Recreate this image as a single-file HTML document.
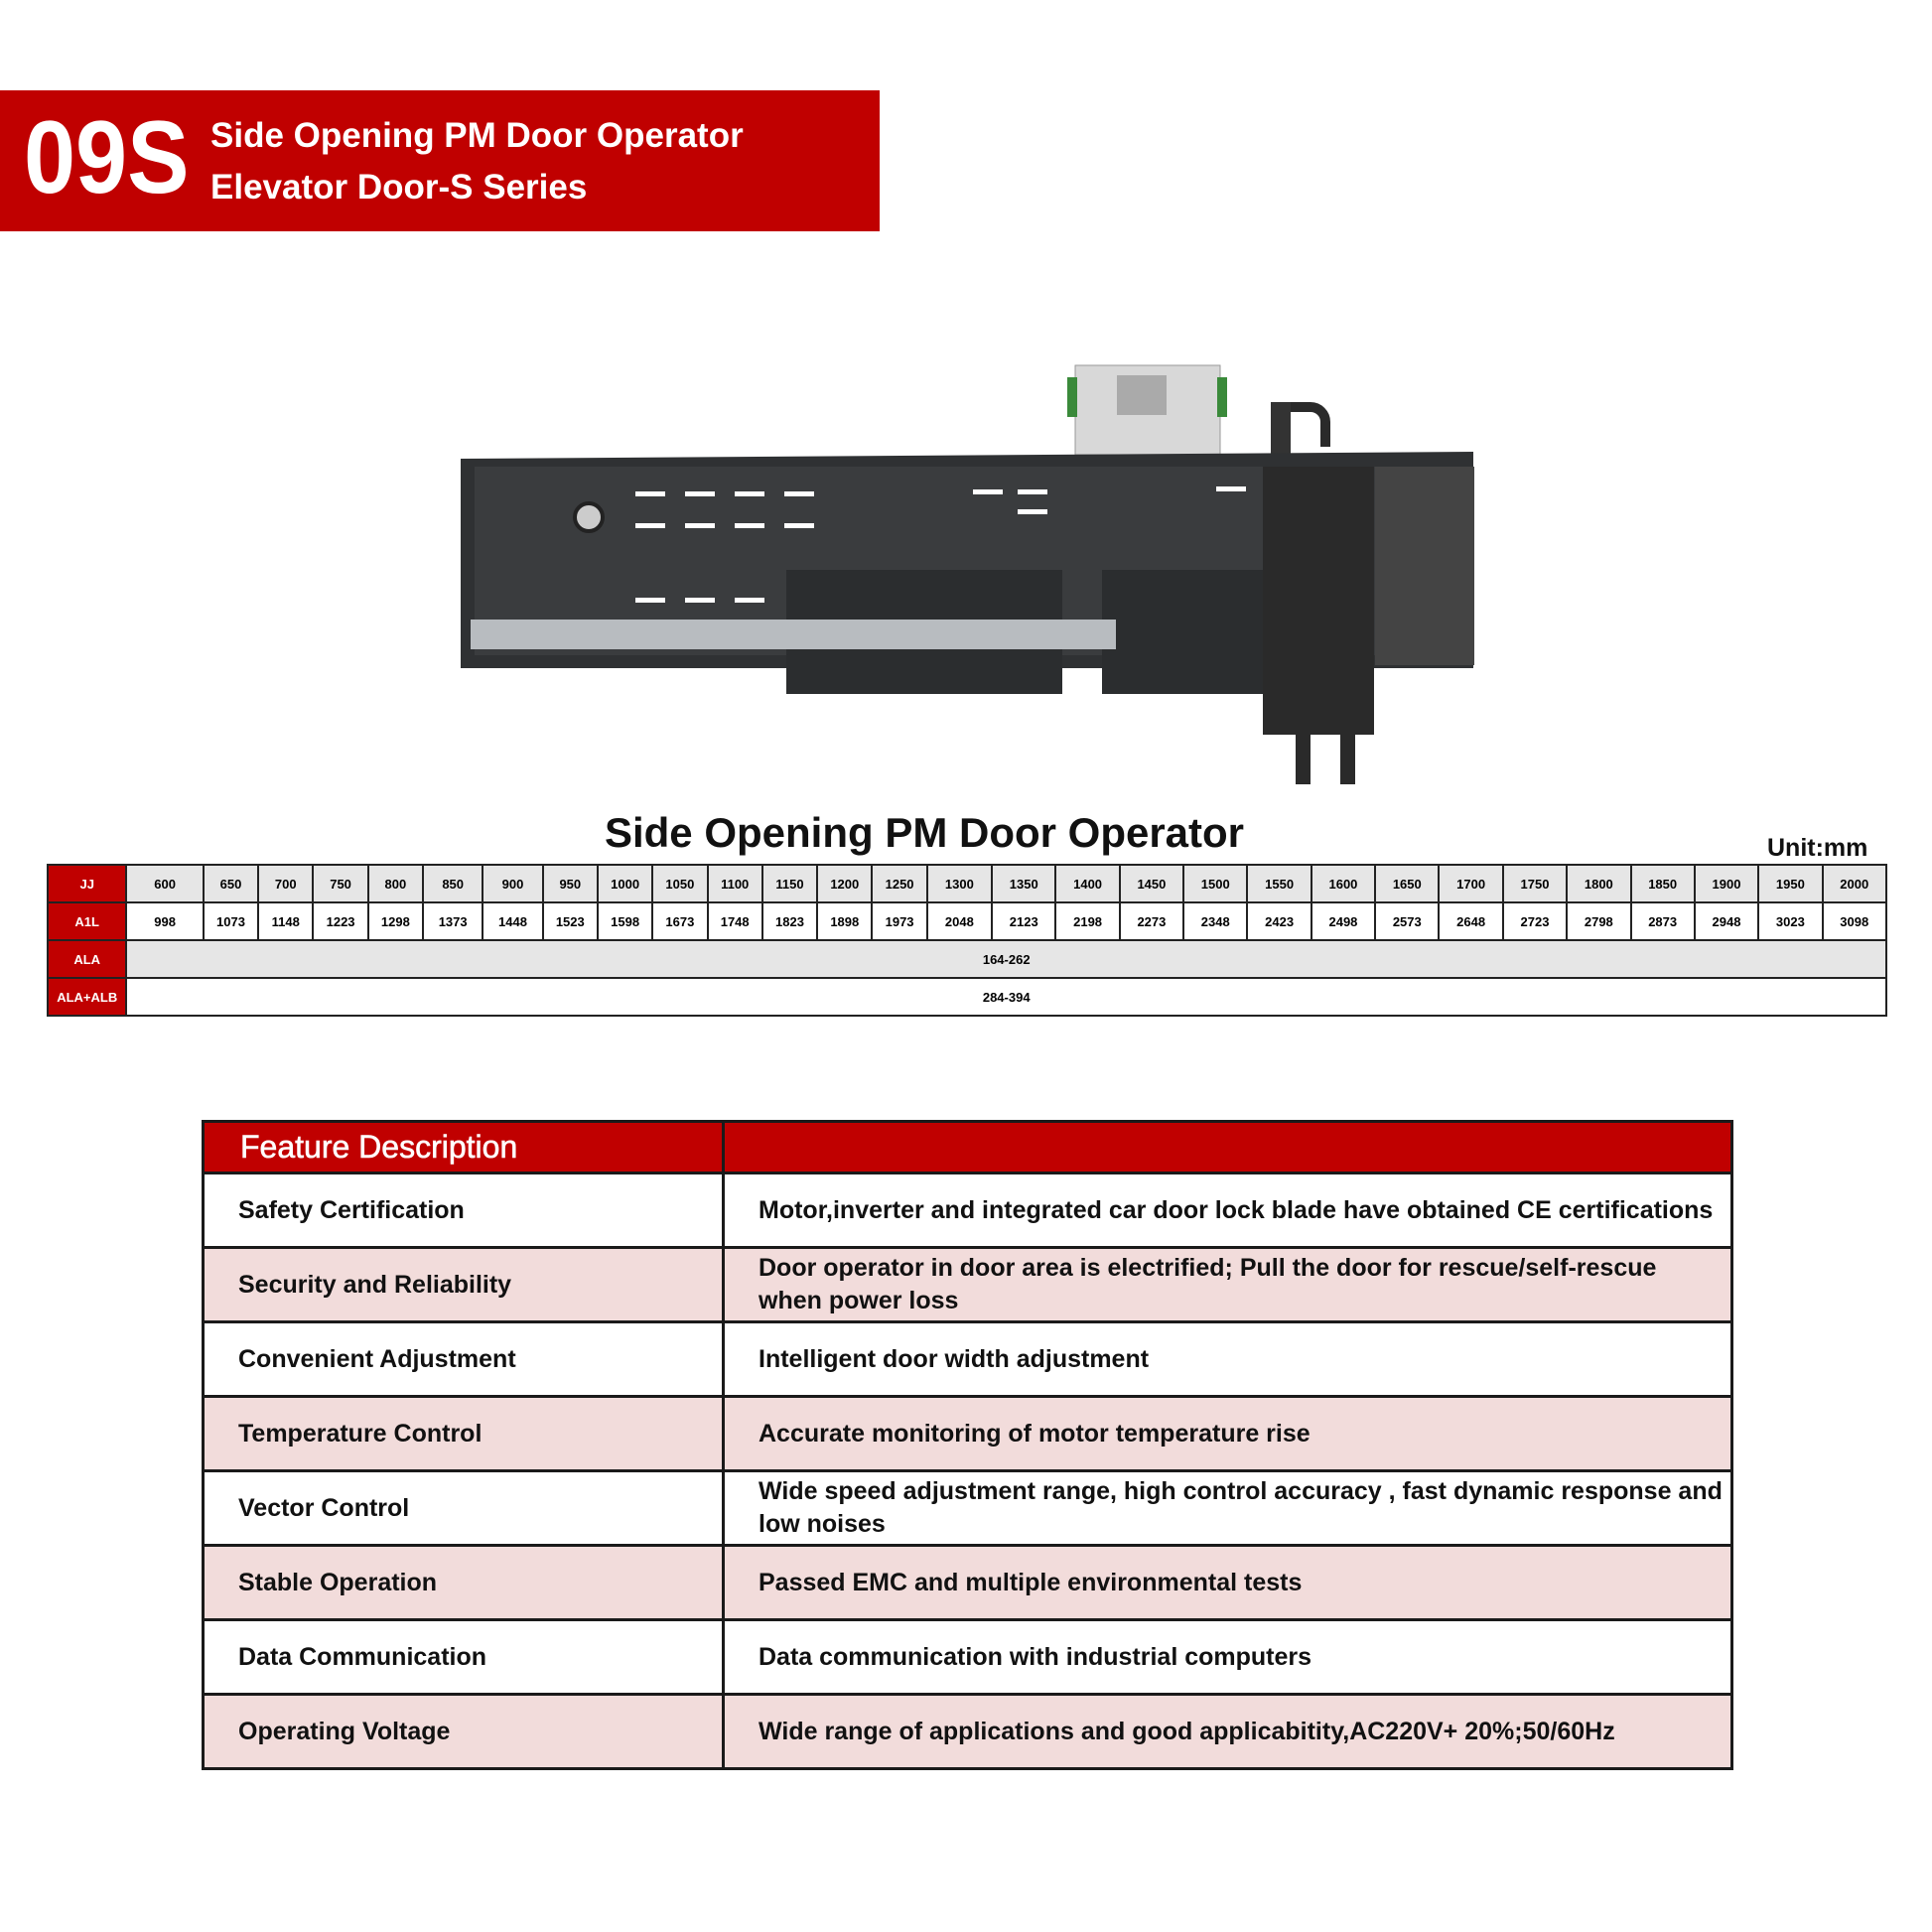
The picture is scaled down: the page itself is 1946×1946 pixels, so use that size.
<!DOCTYPE html>
<html><head><meta charset="utf-8"><style>
body{margin:0;background:#fff;width:1946px;height:1946px;position:relative;overflow:hidden;font-family:"Liberation Sans",Arial,sans-serif}
.a{position:absolute}
.hdr{left:0;top:91px;width:886px;height:142px;background:#c00000;color:#fff}
table{border-collapse:collapse}
#spec{position:absolute;left:47px;top:870px;width:1854px;table-layout:fixed}
#spec td{border:2px solid #222;height:36px;text-align:center;font-size:13px;font-weight:bold;padding:0}
#spec tr.g td{background:#e6e6e6}
#spec tr td.h{background:#c00000;color:#fff}
#feat{position:absolute;left:203px;top:1128px;width:1543px;table-layout:fixed}
#feat td{border:3px solid #1a1a1a;font-size:25px;font-weight:bold;color:#111;padding:0 0 0 34px;line-height:33px;white-space:nowrap}
#feat tr.p td{background:#f2dcdb}
</style></head><body>
<div class="a hdr">
<div class="a" style="left:24px;top:8px;font-size:104px;font-weight:bold;line-height:120px;transform:scaleX(0.9);transform-origin:0 0">09S</div>
<div class="a" style="left:212px;top:20px;font-size:35px;font-weight:bold;line-height:52px;white-space:nowrap">Side Opening PM Door Operator<br>Elevator Door-S Series</div>
</div>

<svg class="a" style="left:0;top:0" width="1946" height="800">
<rect x="1083" y="368" width="146" height="90" fill="#d8d8d8" stroke="#999"/>
<rect x="1125" y="378" width="50" height="40" fill="#aaa"/>
<rect x="1075" y="380" width="10" height="40" fill="#3a8a3a"/>
<rect x="1226" y="380" width="10" height="40" fill="#3a8a3a"/>
<rect x="1280" y="405" width="20" height="100" fill="#333"/>
<path d="M1300 410 h20 a15 15 0 0 1 15 15 v25" fill="none" stroke="#2a2a2a" stroke-width="10"/>
<polygon points="464,462 1484,455 1484,673 464,673" fill="#2f3133"/>
<rect x="478" y="470" width="1000" height="190" fill="#3a3c3e"/>
<g fill="#fff">
<rect x="640" y="495" width="30" height="5"/><rect x="690" y="495" width="30" height="5"/><rect x="740" y="495" width="30" height="5"/><rect x="790" y="495" width="30" height="5"/>
<rect x="640" y="527" width="30" height="5"/><rect x="690" y="527" width="30" height="5"/><rect x="740" y="527" width="30" height="5"/><rect x="790" y="527" width="30" height="5"/>
<rect x="640" y="602" width="30" height="5"/><rect x="690" y="602" width="30" height="5"/><rect x="740" y="602" width="30" height="5"/>
<rect x="980" y="493" width="30" height="5"/><rect x="1025" y="493" width="30" height="5"/><rect x="1025" y="513" width="30" height="5"/><rect x="1225" y="490" width="30" height="5"/>
</g>
<circle cx="593" cy="521" r="14" fill="#ccc" stroke="#222" stroke-width="4"/>
<rect x="792" y="574" width="278" height="125" fill="#2b2d2f"/>
<rect x="1110" y="574" width="162" height="125" fill="#2b2d2f"/>
<rect x="474" y="624" width="650" height="30" fill="#b8bcc0"/>
<rect x="1272" y="470" width="112" height="270" fill="#2a2a2a"/>
<rect x="1385" y="470" width="100" height="200" fill="#444"/>
<rect x="1305" y="700" width="15" height="90" fill="#2a2a2a"/>
<rect x="1350" y="700" width="15" height="90" fill="#2a2a2a"/>
</svg>

<div class="a" style="left:0;width:1862px;top:815px;text-align:center;font-size:42px;font-weight:bold;color:#111">Side Opening PM Door Operator</div>
<div class="a" style="left:1780px;top:840px;font-size:25px;font-weight:bold;color:#111">Unit:mm</div>

<table id="spec">
<colgroup><col style="width:79px"><col style="width:77px"><col style="width:55px"><col style="width:55px"><col style="width:55px"><col style="width:55px"><col style="width:60px"><col style="width:60px"><col style="width:55px"><col style="width:55px"><col style="width:55px"><col style="width:55px"><col style="width:55px"><col style="width:55px"><col style="width:55px"><col style="width:65px"><col style="width:64px"><col style="width:64px"><col style="width:64px"><col style="width:64px"><col style="width:64px"><col style="width:64px"><col style="width:64px"><col style="width:64px"><col style="width:64px"><col style="width:64px"><col style="width:64px"><col style="width:64px"><col style="width:64px"><col style="width:64px"></colgroup>
<tr class="g"><td class="h">JJ</td><td>600</td><td>650</td><td>700</td><td>750</td><td>800</td><td>850</td><td>900</td><td>950</td><td>1000</td><td>1050</td><td>1100</td><td>1150</td><td>1200</td><td>1250</td><td>1300</td><td>1350</td><td>1400</td><td>1450</td><td>1500</td><td>1550</td><td>1600</td><td>1650</td><td>1700</td><td>1750</td><td>1800</td><td>1850</td><td>1900</td><td>1950</td><td>2000</td></tr>
<tr><td class="h">A1L</td><td>998</td><td>1073</td><td>1148</td><td>1223</td><td>1298</td><td>1373</td><td>1448</td><td>1523</td><td>1598</td><td>1673</td><td>1748</td><td>1823</td><td>1898</td><td>1973</td><td>2048</td><td>2123</td><td>2198</td><td>2273</td><td>2348</td><td>2423</td><td>2498</td><td>2573</td><td>2648</td><td>2723</td><td>2798</td><td>2873</td><td>2948</td><td>3023</td><td>3098</td></tr>
<tr class="g"><td class="h">ALA</td><td colspan="29">164-262</td></tr>
<tr><td class="h">ALA+ALB</td><td colspan="29">284-394</td></tr>
</table>

<table id="feat">
<colgroup><col style="width:524px"><col></colgroup>
<tr style="height:52px"><td style="background:#c00000;color:#fff;font-size:32px;font-weight:normal;-webkit-text-stroke:0.6px #fff;padding-left:36px">Feature Description</td><td style="background:#c00000"></td></tr>
<tr style="height:75px"><td>Safety Certification</td><td>Motor,inverter and integrated car door lock blade have obtained CE certifications</td></tr>
<tr class="p" style="height:75px"><td>Security and Reliability</td><td>Door operator in door area is electrified; Pull the door for rescue/self-rescue<br>when power loss</td></tr>
<tr style="height:75px"><td>Convenient Adjustment</td><td>Intelligent door width adjustment</td></tr>
<tr class="p" style="height:75px"><td>Temperature Control</td><td>Accurate monitoring of motor temperature rise</td></tr>
<tr style="height:75px"><td>Vector Control</td><td>Wide speed adjustment range, high control accuracy , fast dynamic response and<br>low noises</td></tr>
<tr class="p" style="height:75px"><td>Stable Operation</td><td>Passed EMC and multiple environmental tests</td></tr>
<tr style="height:75px"><td>Data Communication</td><td>Data communication with industrial computers</td></tr>
<tr class="p" style="height:75px"><td>Operating Voltage</td><td>Wide range of applications and good applicabitity,AC220V+ 20%;50/60Hz</td></tr>
</table>
</body></html>
